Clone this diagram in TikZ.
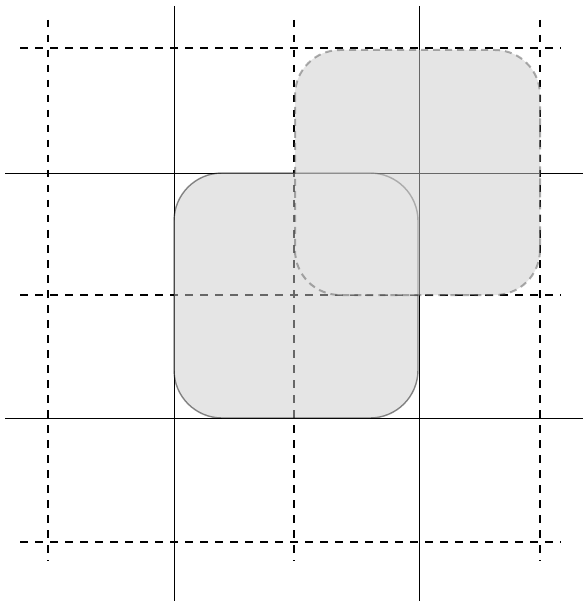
\documentclass[tikz,border=0pt]{standalone}
\usepackage{tikz}
\usetikzlibrary{positioning}

\begin{document}
\begin{tikzpicture}[x=1pt, y=-1pt,
        gridsolid/.style={black, line width=0.9pt},
        griddashed/.style={black, line width=2.6pt, dash pattern=on 7.5pt off 7.5pt},
        tilebase/.style={fill=black!10},
        tilesolid/.style={fill=black!10, draw=black, line width=1.4pt, opacity=0.45, rounded corners=48},
        tiledashed/.style={fill=black!10, draw=black!70, line width=2pt, dash pattern=on 7pt off 5pt, opacity=0.45, rounded corners=45}]
        \useasboundingbox (0,0) rectangle (583,601);
        
        % ground of the two tiles
        \fill[tilebase, rounded corners=48] (174,173) rectangle (418,418);
        \fill[tilebase, rounded corners=45] (295,50) rectangle (540,295);
        
        % solid grid
        \draw[gridsolid] (174,6) -- (174,601);
        \draw[gridsolid] (419,6) -- (419,601);
        \draw[gridsolid] (5,173) -- (583,173);
        \draw[gridsolid] (5,418) -- (583,418);
        
        % dashed grid
        \draw[griddashed] (48,20) -- (48,561);
        \draw[griddashed] (294,20) -- (294,561);
        \draw[griddashed] (540,20) -- (540,561);
        \draw[griddashed] (20,48) -- (561,48);
        \draw[griddashed] (20,295) -- (561,295);
        \draw[griddashed] (20,542) -- (561,542);
        
        % the two tiles on top, see-through
        \draw[tilesolid] (174,173) rectangle (418,418);
        \draw[tiledashed] (295,50) rectangle (540,295);
        
    \end{tikzpicture}
\end{document}
